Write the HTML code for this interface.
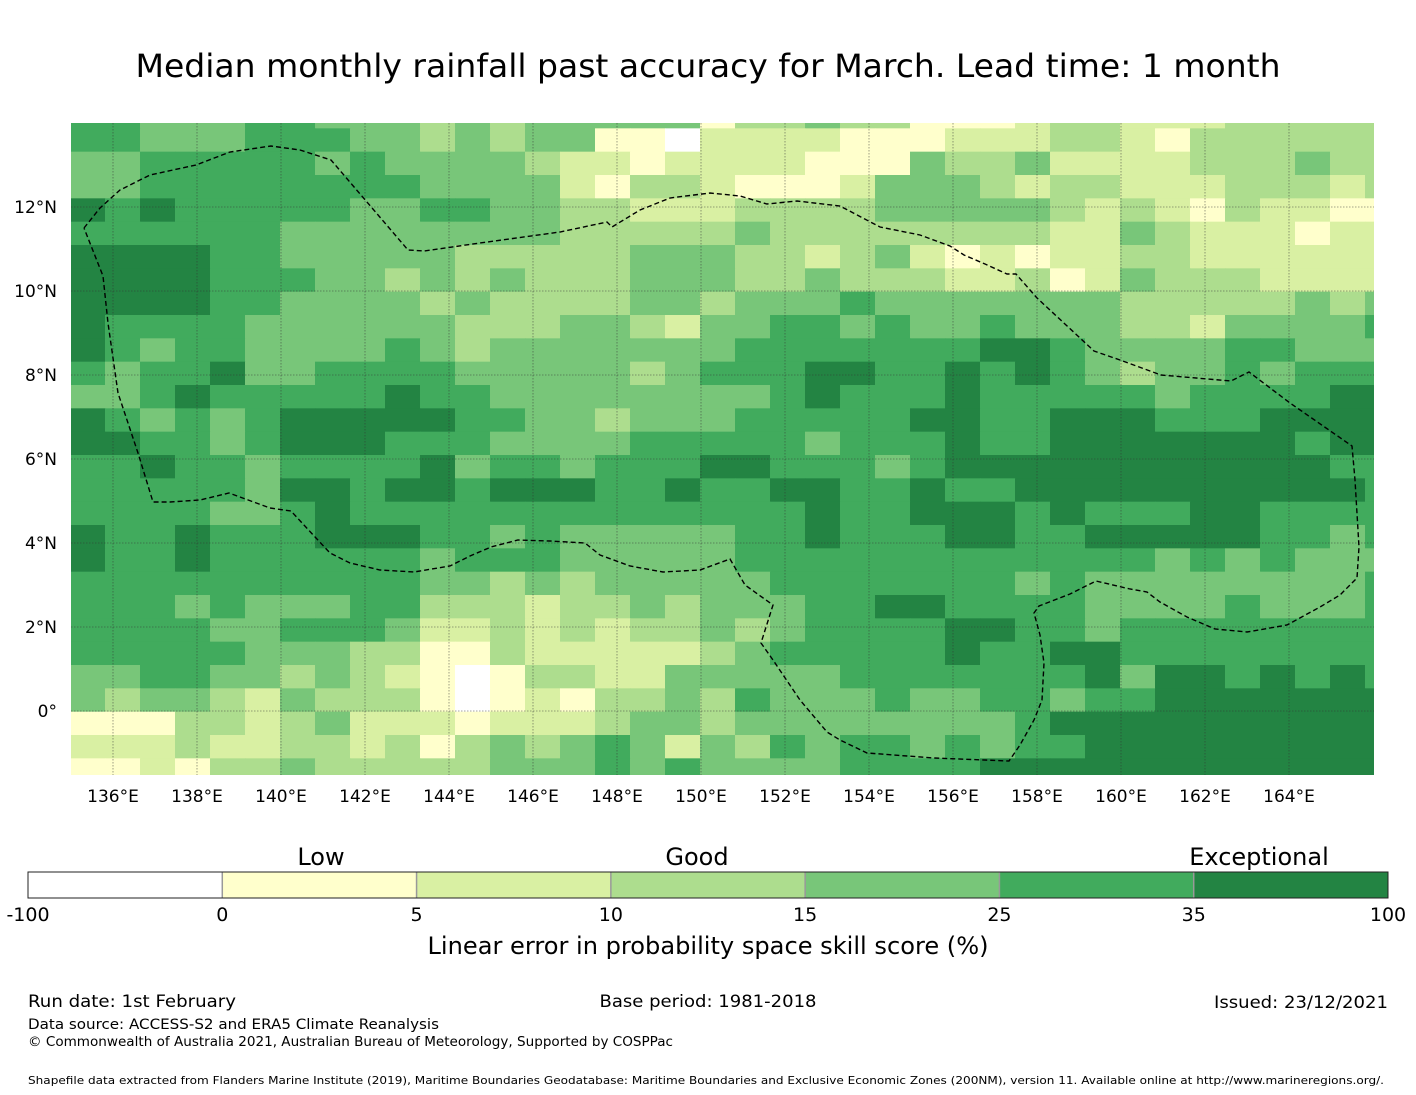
<!DOCTYPE html>
<html><head><meta charset="utf-8">
<style>
html,body{margin:0;padding:0;background:#fff;}
svg{display:block;font-family:"DejaVu Sans","Liberation Sans",sans-serif;}
</style></head>
<body>
<svg id="chart" width="1416" height="1095" viewBox="0 0 1416 1095" xmlns="http://www.w3.org/2000/svg">
<text x="708" y="77" font-size="32" text-anchor="middle" textLength="1145" lengthAdjust="spacingAndGlyphs">Median monthly rainfall past accuracy for March. Lead time: 1 month</text>
<defs><clipPath id="mapclip"><rect x="71" y="123" width="1303" height="652"/></clipPath></defs>
<g id="map" clip-path="url(#mapclip)"></g>
<g id="axes"></g>
<g id="cbar"></g>
<text x="321" y="865" font-size="24" text-anchor="middle">Low</text>
<text x="697" y="865" font-size="24" text-anchor="middle">Good</text>
<text x="1259" y="865" font-size="24" text-anchor="middle">Exceptional</text>
<text x="708" y="954" font-size="24" text-anchor="middle" textLength="561" lengthAdjust="spacingAndGlyphs">Linear error in probability space skill score (%)</text>
<text x="28" y="1007" font-size="17" textLength="208" lengthAdjust="spacingAndGlyphs">Run date: 1st February</text>
<text x="708" y="1007" font-size="17" text-anchor="middle" textLength="217" lengthAdjust="spacingAndGlyphs">Base period: 1981-2018</text>
<text x="1388" y="1008" font-size="17" text-anchor="end" textLength="174" lengthAdjust="spacingAndGlyphs">Issued: 23/12/2021</text>
<text x="28" y="1029" font-size="14.5" textLength="411" lengthAdjust="spacingAndGlyphs">Data source: ACCESS-S2 and ERA5 Climate Reanalysis</text>
<text x="28" y="1046" font-size="13" textLength="645" lengthAdjust="spacingAndGlyphs">© Commonwealth of Australia 2021, Australian Bureau of Meteorology, Supported by COSPPac</text>
<text x="28" y="1084" font-size="11" textLength="1356" lengthAdjust="spacingAndGlyphs">Shapefile data extracted from Flanders Marine Institute (2019), Maritime Boundaries Geodatabase: Maritime Boundaries and Exclusive Economic Zones (200NM), version 11. Available online at http://www.marineregions.org/.</text>
</svg>
<script>
// ---- data ----
const levelColors = ["#ffffff","#ffffcc","#d9f0a3","#addd8e","#78c679","#41ab5d","#238443"];
const levelBounds = ["-100","0","5","10","15","25","35","100"];
const gridRows = [
"55444554443434444413343311123322233333",
"55444555443434411022221112223321333333",
"44555554544443221222211143342222333433",
"44555555554444213321112444323322233323",
"65655555445544332223333444443232132211",
"55555544444444333334333333332243222122",
"66665544444333334443323421212233222222",
"66665554434343334443343332231243332222",
"66665544443433334434445444444433333434",
"65555444444333443244554544544433244445",
"65455444454344444445555555665444455444",
"54556445555444443455566556565434454555",
"44565555565544444444565556555554555566",
"65454566666554434445555566556665556666",
"66554566655544445555545556556666666566",
"55655455556455455566555456666666666655",
"55555466566566655655665565566666666665",
"55554456555555555555565566656555665555",
"65565556665545444445565556655666665545",
"65565555554555444445555555555554545444",
"55555555554434344444555555545444444445",
"55545444553332334344455665555444454445",
"55554455542232323343455556655455555555",
"55555444331132222234555556556655555555",
"44554434321013322444445555555646656565",
"43443243331012133435444544554556666666",
"11133234222122234434444444456666666666",
"22232233231343454243545545455666666666",
"11213343333344454544445555666666666666"
];
const latTicks = [12,10,8,6,4,2,0];
const latLabels = ["12°N","10°N","8°N","6°N","4°N","2°N","0°"];
const lonTicks = [136,138,140,142,144,146,148,150,152,154,156,158,160,162,164];
const boundaryPts = [[84,228],[100,208],[120,190],[150,175],[196,165],[230,152],[271,146],[300,150],[331,160],[408,250],[424,251],[480,243],[560,232],[607,222],[612,227],[640,210],[670,198],[710,193],[740,196],[767,204],[797,201],[840,206],[880,227],[920,235],[950,246],[964,255],[985,264],[1007,274],[1016,274],[1037,298],[1094,351],[1120,360],[1161,375],[1231,381],[1249,372],[1290,403],[1352,446],[1355,480],[1359,547],[1357,578],[1340,595],[1320,607],[1287,625],[1247,632],[1215,629],[1187,617],[1160,602],[1147,592],[1130,589],[1096,581],[1070,594],[1039,606],[1034,613],[1040,635],[1044,663],[1042,700],[1034,720],[1020,745],[1009,761],[934,758],[867,753],[840,740],[827,732],[800,700],[773,660],[761,643],[773,605],[745,585],[730,559],[700,570],[663,572],[630,566],[600,555],[585,543],[550,541],[518,540],[491,547],[470,556],[450,566],[414,572],[380,570],[350,563],[330,553],[316,538],[291,511],[270,508],[229,493],[200,500],[170,502],[153,502],[138,453],[118,393],[108,323],[103,276],[84,228]];

// ---- scales ----
const NS="http://www.w3.org/2000/svg";
const cellW=35, cellH=70/3, gx0=70, gy0=105;
const colX = c => gx0 + c*cellW;
const rowY = r => gy0 + r*cellH;
const lonX = lon => 113 + (lon-136)*42;
const latY = lat => 207 + (12-lat)*42;
function mk(tag, attrs, parent){const e=document.createElementNS(NS,tag);for(const k in attrs)e.setAttribute(k,attrs[k]);parent.appendChild(e);return e;}

const map=document.getElementById('map');
gridRows.forEach((row,r)=>{
  for(let c=0;c<row.length;c++){
    const v=+row[c];
    const rc=mk('rect',{x:colX(c),y:rowY(r),width:cellW+0.5,height:cellH+0.5,fill:levelColors[v]},map);
    
    
  }
});
lonTicks.forEach(l=>{
  const ln=mk('line',{x1:lonX(l),x2:lonX(l),y1:123,y2:775,stroke:'#333','stroke-width':0.8,'stroke-dasharray':'1.5,1.5','stroke-opacity':0.6},map);
  
  
});
latTicks.forEach(l=>{
  const ln=mk('line',{x1:71,x2:1374,y1:latY(l),y2:latY(l),stroke:'#333','stroke-width':0.8,'stroke-dasharray':'1.5,1.5','stroke-opacity':0.6},map);
  
  
});
const bd=mk('polyline',{points:boundaryPts.map(p=>p.join(',')).join(' '),fill:'none',stroke:'#000','stroke-width':1.4,'stroke-dasharray':'5,3'},map);



const axes=document.getElementById('axes');
latTicks.forEach((l,i)=>{
  const t=mk('text',{x:57,y:latY(l)+6,'font-size':17,'text-anchor':'end'},axes);
  t.textContent=latLabels[i];
  
  
});
lonTicks.forEach(l=>{
  const t=mk('text',{x:lonX(l),y:802,'font-size':17,'text-anchor':'middle'},axes);
  t.textContent=l+'°E';
  
  
});

const cb=document.getElementById('cbar');
const cbX0=28, cbX1=1388, cbY=872, cbH=26, segW=(cbX1-cbX0)/levelColors.length;
levelColors.forEach((col,i)=>{
  const s=mk('rect',{x:cbX0+i*segW,y:cbY,width:segW,height:cbH,fill:col},cb);
  
  
  if(i>0){mk('line',{x1:cbX0+i*segW,x2:cbX0+i*segW,y1:cbY,y2:cbY+cbH,stroke:'#999','stroke-width':1.5},cb);}
});
mk('rect',{x:cbX0,y:cbY,width:cbX1-cbX0,height:cbH,fill:'none',stroke:'#222','stroke-width':1},cb);
levelBounds.forEach((b,i)=>{
  const t=mk('text',{x:cbX0+i*segW,y:921,'font-size':19,'text-anchor':'middle'},cb);
  t.textContent=b;
  
  
});
</script>
</body></html>
